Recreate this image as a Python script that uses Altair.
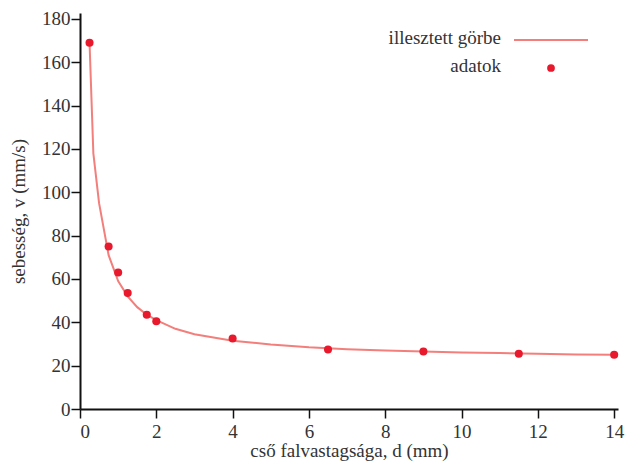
import altair as alt
import pandas as pd

# measured data points
data_d = [0.25, 0.75, 1.0, 1.25, 1.75, 2.0, 4.0, 6.5, 9.0, 11.5, 14.0]
data_v = [169, 75, 63, 53.5, 43.5, 40.5, 32.5, 27.5, 26.5, 25.5, 25]

# fitted curve
curve_d = [0.25, 0.35, 0.5, 0.75, 1.0, 1.25, 1.5, 1.75, 2.0, 2.5, 3.0, 4.0, 5.0, 6.0, 7.0, 8.0, 9.0, 10.0, 11.0, 12.0, 13.0, 14.0]
curve_v = [169, 118, 95, 71, 59, 52, 47, 43.5, 41, 37, 34.5, 31.5, 29.8, 28.5, 27.6, 27, 26.5, 26.1, 25.8, 25.5, 25.2, 25]

x_ticks = [0, 2, 4, 6, 8, 10, 12, 14]
y_ticks = [0, 20, 40, 60, 80, 100, 120, 140, 160, 180]

legend_labels = ["illesztett görbe", "adatok"]

FONT = "Liberation Serif"
TXT = "#333333"
LINE_C = "#f27f7b"
PT_C = "#e8192c"

pts = pd.DataFrame({"d": data_d, "v": data_v})
crv = pd.DataFrame({"d": curve_d, "v": curve_v})

xscale = alt.Scale(domain=[0, 14.1], nice=False, zero=False)
yscale = alt.Scale(domain=[0, 182.75], nice=False, zero=False)

xaxis = alt.Axis(values=x_ticks, title="cső falvastagsága, d (mm)", grid=False,
                 labelPadding=4, titlePadding=0)
yaxis = alt.Axis(values=y_ticks, title="sebesség, v (mm/s)", grid=False,
                 labelPadding=1, titlePadding=13)

line = alt.Chart(crv).mark_line(color=LINE_C, strokeWidth=2).encode(
    x=alt.X("d:Q", scale=xscale, axis=xaxis),
    y=alt.Y("v:Q", scale=yscale, axis=yaxis),
)
points = alt.Chart(pts).mark_circle(color=PT_C, opacity=1, size=65).encode(
    x=alt.X("d:Q", scale=xscale),
    y=alt.Y("v:Q", scale=yscale),
)

leg_df = pd.DataFrame({"label": legend_labels})
leg_text1 = alt.Chart(leg_df.iloc[[0]]).mark_text(
    font=FONT, fontSize=19, color=TXT, align="right", baseline="alphabetic"
).encode(x=alt.value(421), y=alt.value(31), text="label:N")
leg_text2 = alt.Chart(leg_df.iloc[[1]]).mark_text(
    font=FONT, fontSize=19, color=TXT, align="right", baseline="alphabetic"
).encode(x=alt.value(421), y=alt.value(59), text="label:N")
leg_line = alt.Chart(leg_df.iloc[[0]]).mark_rule(color=LINE_C, strokeWidth=2).encode(
    x=alt.value(434), x2=alt.value(508), y=alt.value(27)
)
leg_pt = alt.Chart(leg_df.iloc[[1]]).mark_circle(color=PT_C, opacity=1, size=60).encode(
    x=alt.value(471), y=alt.value(55)
)

chart = alt.layer(line, points, leg_text1, leg_text2, leg_line, leg_pt).properties(
    width=538, height=396,
    autosize=alt.AutoSizeParams(type="none"),
    padding={"left": 72, "top": 5, "right": 9, "bottom": 52},
).configure_view(stroke=None).configure_axis(
    labelFont=FONT, titleFont=FONT,
    labelFontSize=19, titleFontSize=19,
    labelColor=TXT, titleColor=TXT, titleFontWeight="normal",
    domainColor="#111111", domainWidth=2, tickColor="#111111", tickWidth=1.5,
    tickSize=9,
)

chart.save("out.html", embed_options={"renderer": "svg", "actions": False})
